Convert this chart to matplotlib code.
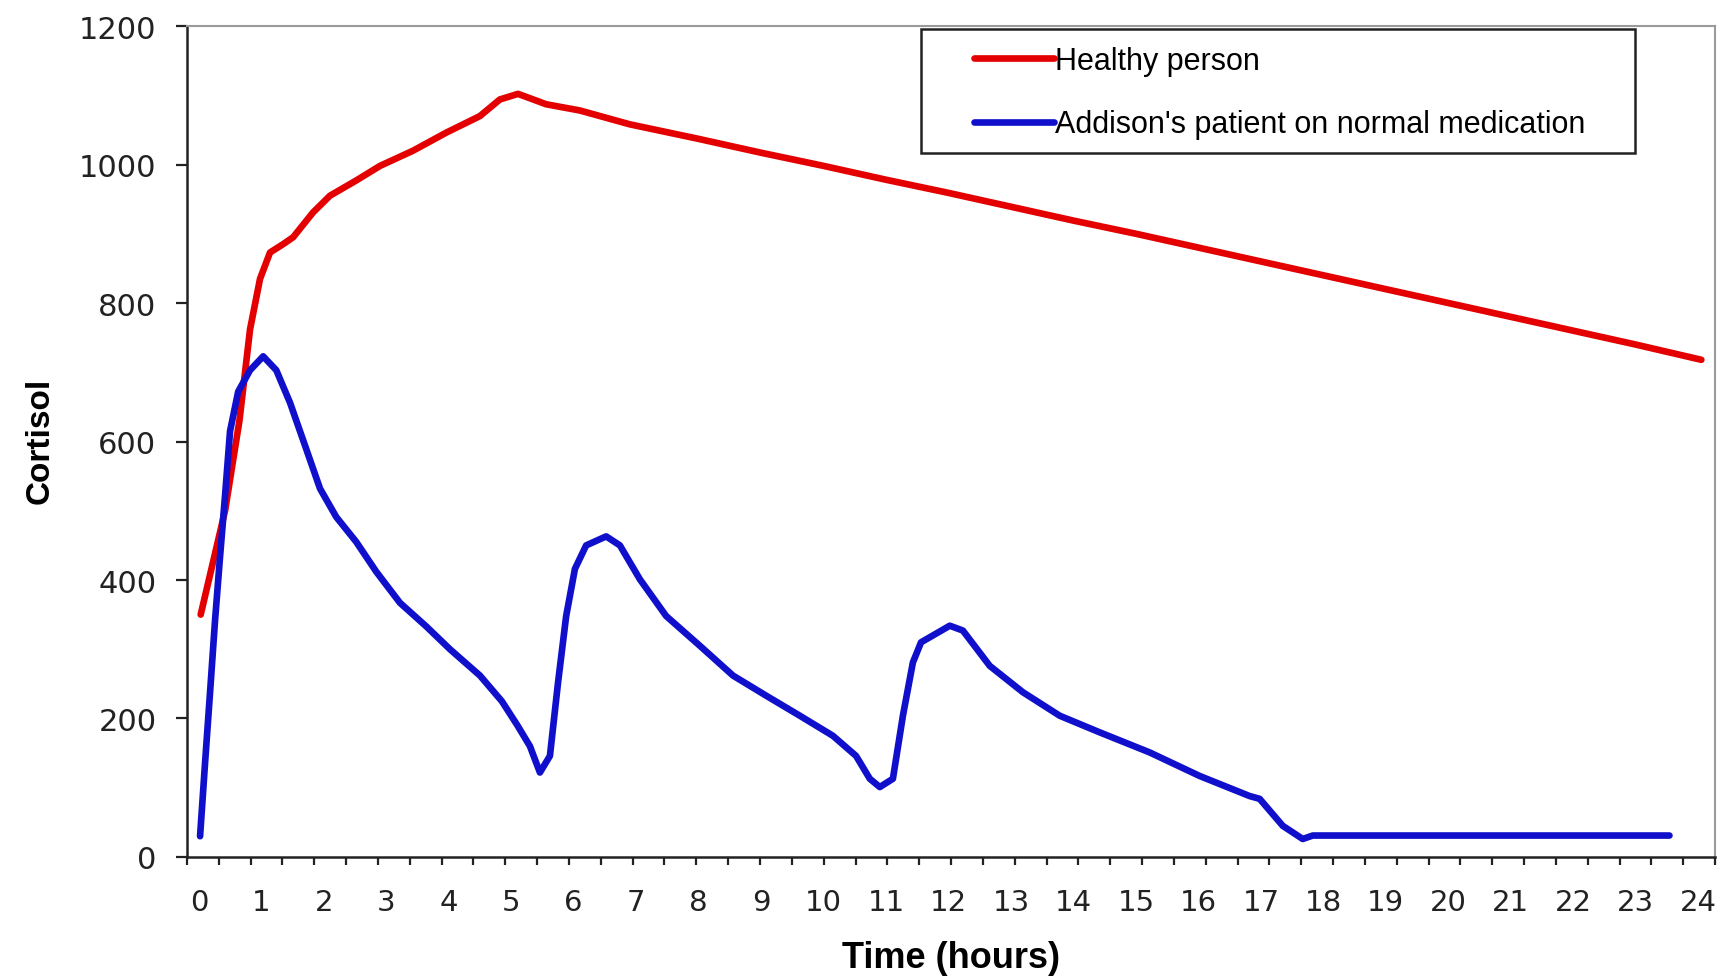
"""Cortisol levels over a day: healthy person vs Addison's patient."""
import numpy as np
import matplotlib.pyplot as plt
from matplotlib.patches import Rectangle

# Values (hours, cortisol).
red_hours = [0.03, 0.42, 0.65, 0.82, 0.98, 1.14, 1.35, 1.51, 1.83, 2.10,
             2.52, 2.90, 3.43, 3.96, 4.50, 4.82, 5.11, 5.56, 6.10, 6.90,
             8, 9, 10, 11, 12, 13, 14, 15, 16, 17, 18, 19, 20, 21, 22, 23,
             24.05]
red_vals = [350, 500, 630, 762, 835, 873, 885, 895, 931, 955,
            977, 998, 1020, 1046, 1070, 1094, 1102, 1087, 1078, 1058,
            1037, 1017, 998, 978, 959, 939, 919, 900, 880, 860, 840, 820,
            800, 780, 760, 740, 718]

blue_hours = [0.02, 0.10, 0.18, 0.26, 0.34, 0.42, 0.50, 0.63, 0.82, 1.03,
              1.24, 1.46, 1.72, 1.94, 2.20, 2.52, 2.84, 3.22, 3.64, 4.02,
              4.50, 4.85, 5.10, 5.30, 5.46, 5.62, 5.75, 5.88, 6.02, 6.20,
              6.52, 6.74, 7.06, 7.48, 8.02, 8.55, 9.08, 9.62, 10.15, 10.52,
              10.74, 10.90, 11.11, 11.27, 11.43, 11.56, 12.02, 12.23, 12.66,
              13.19, 13.78, 14.42, 15.22, 16.02, 16.82, 16.98, 17.35, 17.67,
              17.83, 23.54]
blue_vals = [30, 136, 238, 342, 434, 522, 615, 672, 703, 723,
             703, 656, 589, 532, 491, 455, 412, 367, 333, 300,
             262, 225, 190, 160, 122, 146, 252, 348, 416, 450,
             463, 450, 401, 348, 305, 262, 233, 204, 175, 146,
             113, 101, 113, 204, 281, 310, 334, 327, 276,
             238, 204, 180, 151, 117, 88, 84, 45, 26,
             31, 31]

series_names = ["Healthy person", "Addison's patient on normal medication"]
x_labels = [str(h) for h in range(25)]
y_ticks = [0, 200, 400, 600, 800, 1000, 1200]

# figure and axes placement
fig = plt.figure(figsize=(17.23, 9.79), dpi=100)
ax = fig.add_axes([0.1085, 0.1236, 0.8869, 0.8488])

# plotting the two curves
ax.plot(red_hours, red_vals, color="#e40000", lw=4.8,
        solid_joinstyle="round", solid_capstyle="round",
        label=series_names[0])
ax.plot(blue_hours, blue_vals, color="#1010cc", lw=4.8,
        solid_joinstyle="round", solid_capstyle="round",
        label=series_names[1])

# axis limits
x_min, x_max = -0.19, 24.27
ax.set_xlim(x_min, x_max)
ax.set_ylim(0, 1200)

# x ticks: labels at whole hours, tick marks spread evenly (excel style)
ax.set_xticks(range(25))
ax.set_xticklabels(x_labels, fontsize=21, family="DejaVu Sans",
                   color="#222222")
ax.tick_params(axis="x", which="major", length=0, pad=22)
ax.set_xticks(np.linspace(x_min, x_max, 49), minor=True)
ax.tick_params(axis="x", which="minor", length=6, width=1.6,
               direction="out", color="#222222")

# y ticks
ax.set_yticks(y_ticks)
ax.set_yticklabels([str(v) for v in y_ticks], fontsize=22,
                   family="DejaVu Sans", color="#222222")
ax.tick_params(axis="y", length=8, width=1.6, pad=14, color="#222222")

# spines
for side in ["left", "bottom"]:
    ax.spines[side].set_color("#222222")
    ax.spines[side].set_linewidth(1.8)
for side in ["top", "right"]:
    ax.spines[side].set_color("#9a9a9a")
    ax.spines[side].set_linewidth(1.5)

# axis labels
fig.text(0.552, 0.021, "Time (hours)", fontsize=26, fontweight="bold",
         family="Liberation Sans", ha="center", va="center")
fig.text(0.0235, 0.550, "Cortisol", fontsize=24, fontweight="bold",
         family="Liberation Sans", rotation=90, ha="center", va="center")

# legend without frame, frame drawn separately
leg = ax.legend(loc="upper left", bbox_to_anchor=(0.5566, 0.968),
                bbox_transform=fig.transFigure, frameon=False,
                borderpad=0, handlelength=2.6, handletextpad=0.05,
                labelspacing=1.1, prop={"family": "Liberation Sans",
                                        "size": 22})
fig.add_artist(Rectangle((0.5345, 0.8427), 0.4144, 0.1267,
                         transform=fig.transFigure, fill=False,
                         edgecolor="#222222", linewidth=1.8, zorder=5))

# saving the figure
plt.savefig("out.png", dpi=100)
